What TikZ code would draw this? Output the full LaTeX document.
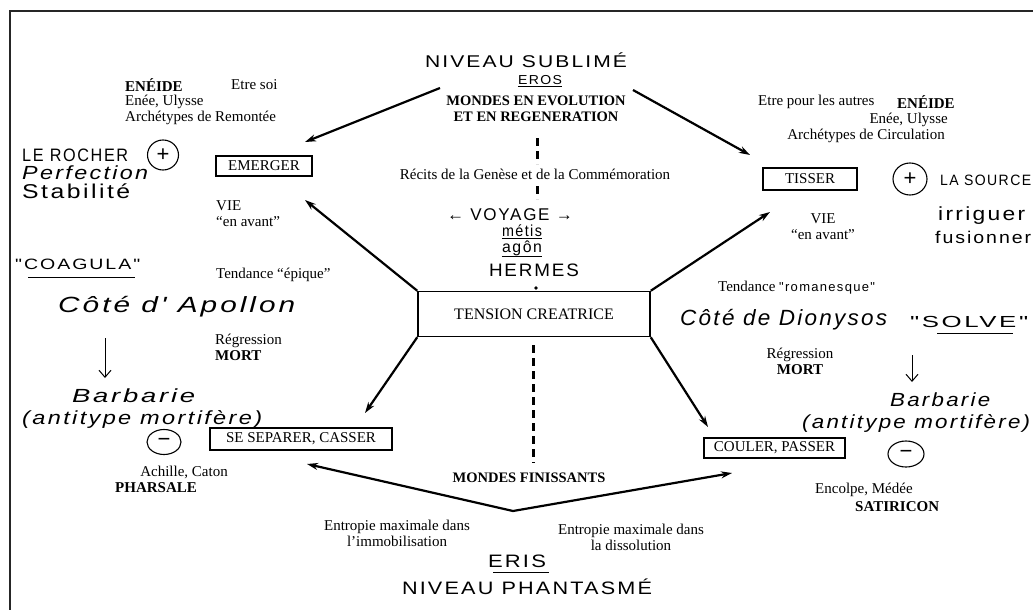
\documentclass[tikz,border=0pt]{standalone}
\usepackage{fontspec}
\setmainfont{Liberation Serif}
\newfontfamily\hand[LetterSpace=10]{Liberation Sans}
\usetikzlibrary{arrows.meta,shapes.geometric}
\newcommand\hw[3]{\resizebox{#2pt}{\height}{\hand\fontsize{#1}{#1}\selectfont #3}}
\newcommand\hwi[3]{\resizebox{#2pt}{\height}{\hand\itshape\fontsize{#1}{#1}\selectfont #3}}
\begin{document}
\begin{tikzpicture}[x=1pt,y=-1pt,
  pt/.style={font=\fontsize{15}{16}\selectfont, inner sep=0pt, align=left},
  ptc/.style={font=\fontsize{15}{16}\selectfont, inner sep=0pt, align=center},
  hnd/.style={inner sep=0pt},
  bx/.style={draw, line width=1.6pt, inner sep=0pt, font=\fontsize{15}{16}\selectfont},
  arr/.style={line width=2.2pt, -{Stealth[length=11pt,width=7pt]}},
  dbl/.style={line width=2.2pt, {Stealth[length=11pt,width=7pt]}-{Stealth[length=11pt,width=7pt]}},
  dsh/.style={line width=3pt, dash pattern=on 8pt off 5pt},
  ul/.style={line width=0.9pt},
  harr/.style={line width=1pt, -{Straight Barb[length=7pt,width=12pt]}},
  sign/.style={draw, line width=1.1pt, ellipse, inner sep=0pt, font=\hand\fontsize{22}{22}\selectfont}
]
\useasboundingbox (0,0) rectangle (1033,610);
\fill[white] (0,0) rectangle (1033,610);
% frame
\coordinate (fBL) at (10,612);
\coordinate (fTL) at (10,11);
\coordinate (fTR) at (1040,11);
\draw[line width=2.5pt, black!85] (fBL) -- (fTL) -- (fTR);

% ---------- top centre ----------
\node[hnd] (sublime) at (526,60) {\hw{17}{202}{NIVEAU SUBLIMÉ}};
\node[hnd] (eros) at (540,80) {\hw{13}{44}{EROS}};
\draw[ul] ([yshift=-2pt]eros.south west) -- ([yshift=-2pt]eros.south east);
\node[ptc, font=\bfseries\fontsize{14.5}{16}\selectfont] (mondes) at (536,109) {MONDES EN EVOLUTION\\ET EN REGENERATION};
\node[ptc] (recits) at (535,174) {Récits de la Genèse et de la Commémoration};
\node[hnd] (voyage) at (510,215) {\hw{17}{126}{← VOYAGE →}};
\node[hnd] (metis) at (522,231) {\hw{16}{40}{métis}};
\draw[ul] ([yshift=-1pt]metis.south west) -- ([yshift=-1pt]metis.south east);
\node[hnd] (agon) at (522,248) {\hw{16}{40}{agôn}};
\draw[ul] ([yshift=-1pt]agon.south west) -- ([yshift=-1pt]agon.south east);
\node[hnd] (hermes) at (534,270) {\hw{18}{90}{HERMES}};

% ---------- centre ----------
\node[draw, line width=1.5pt, minimum width=232pt, minimum height=45pt, inner sep=0pt,
      font=\fontsize{16}{18}\selectfont] (t) at (534,314) {TENSION CREATRICE};

% vertical dashed axis
\coordinate (d1a) at (537,138); \coordinate (d1b) at (537,164);
\coordinate (d2a) at (537,186); \coordinate (d2b) at (537,199);
\coordinate (d3) at (536,288);
\coordinate (d4a) at (533,345); \coordinate (d4b) at (533,463);
\draw[dsh] (d1a) -- (d1b);
\draw[dsh] (d2a) -- (d2b);
\fill (d3) circle (1.8pt);
\draw[dsh] (d4a) -- (d4b);

% ---------- left top ----------
\node[pt, anchor=west, font=\bfseries\fontsize{15}{16}\selectfont] (eneL) at (125,85) {ENÉIDE};
\node[pt, anchor=west] (soi) at (231,85) {Etre soi};
\node[pt, anchor=west] (eneeL) at (125,102) {Enée, Ulysse};
\node[pt, anchor=west] (archL) at (125,118) {Archétypes de Remontée};
\node[hnd, anchor=west] (rocher) at (22,155) {\hw{18}{106}{LE ROCHER}};
\node[sign, minimum width=31pt, minimum height=30pt] (plusL) at (163,155) {+};
\node[hnd, anchor=west] (perf) at (22,173) {\hwi{19}{126}{Perfection}};
\node[hnd, anchor=west] (stab) at (22,191) {\hw{20}{108}{Stabilité}};
\node[bx, minimum width=96pt, minimum height=20pt] (em) at (264,166) {EMERGER};
\node[pt, anchor=west] (vieL) at (216,214) {VIE\\``en avant''};
\node[pt, anchor=west] (epique) at (216,275) {Tendance ``épique''};
\node[hnd, anchor=west] (coagula) at (15,264) {\hw{15}{125}{"COAGULA"}};
\draw[ul] (28,277) -- (135,277);
\node[hnd, anchor=west] (apollon) at (58,307) {\hwi{22}{237}{Côté d' Apollon}};
\node[pt, anchor=west] (regL) at (215,347) {Régression\\\textbf{MORT}};
\coordinate (haL1) at (105,338);
\coordinate (haL2) at (105,378);
\draw[harr] (haL1) -- (haL2);
\node[hnd, anchor=west] (barbL) at (72,396) {\hwi{19}{123}{Barbarie}};
\node[hnd, anchor=west] (antiL) at (22,419) {\hwi{19}{240}{(antitype mortifère)}};
\node[sign, minimum width=34pt, minimum height=25pt] (minusL) at (164,442) {−};
\node[bx, minimum width=182pt, minimum height=22pt] (se) at (301,439) {SE SEPARER, CASSER};
\node[ptc] (achille) at (184,472) {Achille, Caton};
\node[pt, anchor=west, font=\bfseries\fontsize{15}{16}\selectfont] (pharsale) at (115,488) {PHARSALE};

% ---------- right top ----------
\node[pt, anchor=west] (autres) at (758,102) {Etre pour les autres};
\node[pt, anchor=west, font=\bfseries\fontsize{15}{16}\selectfont] (eneR) at (897,102) {ENÉIDE};
\node[pt, anchor=east] (eneeR) at (948,120) {Enée, Ulysse};
\node[pt, anchor=east] (archR) at (945,136) {Archétypes de Circulation};
\node[bx, minimum width=94pt, minimum height=22pt] (ti) at (810,179) {TISSER};
\node[sign, minimum width=34pt, minimum height=32pt] (plusR) at (910,179) {+};
\node[hnd, anchor=west] (source) at (940,180) {\hw{15}{91}{LA SOURCE}};
\node[hnd, anchor=west] (irriguer) at (938,216) {\hw{19}{87}{irriguer}};
\node[hnd, anchor=west] (fusion) at (935,237) {\hw{17}{96}{fusionner}};
\node[ptc] (vieR) at (823,227) {VIE\\``en avant''};

% ---------- right bottom ----------
\node[pt, anchor=west] (roman) at (718,288) {Tendance {\hand\fontsize{13}{13}\selectfont "romanesque"}};
\node[hnd, anchor=west] (dionysos) at (680,320) {\hwi{22}{207}{Côté de Dionysos}};
\node[hnd, anchor=west] (solve) at (910,322) {\hw{16}{118}{"SOLVE"}};
\draw[ul] (937,333) -- (1013,333);
\node[ptc] (regR) at (800,361) {Régression\\\textbf{MORT}};
\coordinate (haR1) at (912,355);
\coordinate (haR2) at (912,382);
\draw[harr] (haR1) -- (haR2);
\node[hnd, anchor=west] (barbR) at (890,400) {\hwi{19}{100}{Barbarie}};
\node[hnd, anchor=west] (antiR) at (802,423) {\hwi{19}{228}{(antitype mortifère)}};
\node[sign, minimum width=36pt, minimum height=26pt] (minusR) at (906,454) {−};
\node[bx, minimum width=141pt, minimum height=20pt] (co) at (774.5,448) {COULER, PASSER};
\node[pt, anchor=west] (encolpe) at (815,490) {Encolpe, Médée};
\node[pt, anchor=west, font=\bfseries\fontsize{15}{16}\selectfont] (satiricon) at (855,507) {SATIRICON};

% ---------- bottom ----------
\node[ptc, font=\bfseries\fontsize{14.5}{16}\selectfont] (finis) at (529,478) {MONDES FINISSANTS};
\node[ptc] (entL) at (397,533) {Entropie maximale dans\\l'immobilisation};
\node[ptc] (entR) at (631,537) {Entropie maximale dans\\la dissolution};
\node[hnd] (eris) at (517,561) {\hw{18}{58}{ERIS}};
\draw[ul] (493,572) -- (549,572);
\node[hnd] (phant) at (527,587) {\hw{18}{250}{NIVEAU PHANTASMÉ}};

% ---------- arrows ----------
\coordinate (mL) at (440,88);
\coordinate (mR) at (633,90);
\coordinate (topLA) at (305,142);
\coordinate (topRA) at (750,155);
\draw[arr] (mL) -- (topLA);
\draw[arr] (mR) -- (topRA);

\coordinate (emA) at (305,200);
\coordinate (tiA) at (770,212);
\coordinate (seA) at (365,413);
\coordinate (coA) at (708,427);
\draw[arr] (t.north west) -- (emA);
\draw[arr] (t.north east) -- (tiA);
\draw[arr] (t.south west) -- (seA);
\draw[arr] (t.south east) -- (coA);

\coordinate (bL) at (307,464);
\coordinate (apex) at (513,511);
\coordinate (bR) at (732,473);
\draw[dbl] (bL) -- (apex) -- (bR);
\end{tikzpicture}
\end{document}
